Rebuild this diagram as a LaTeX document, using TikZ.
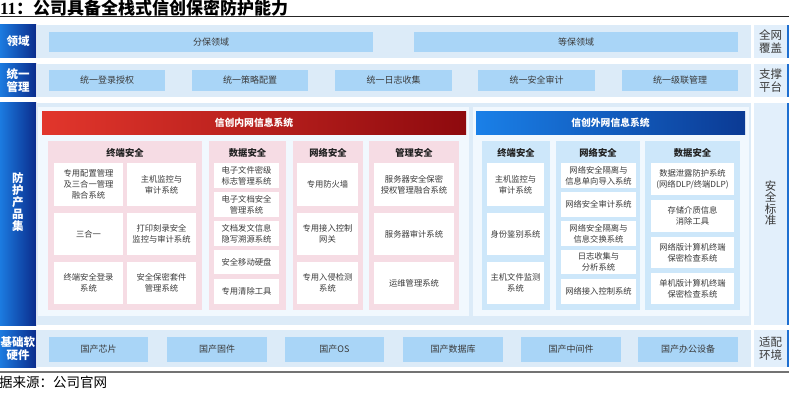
\documentclass[tikz,border=0pt]{standalone}
\usepackage{fontspec}
\newfontfamily\cjk{Noto Sans CJK SC}
\newfontfamily\serifl{Liberation Serif}
\definecolor{bgblue}{HTML}{DCEBF8}
\definecolor{panelc}{HTML}{F1F8FE}
\definecolor{rowboxc}{HTML}{A9D5F7}
\definecolor{pinkc}{HTML}{F6DCE4}
\definecolor{bluecolc}{HTML}{CDE7FA}
\definecolor{rlabc}{HTML}{E2EFFB}
\definecolor{labL}{HTML}{1C7BE0}
\definecolor{labR}{HTML}{0A2C8C}
\definecolor{redL}{HTML}{E2362C}
\definecolor{redR}{HTML}{8E0A0E}
\definecolor{blueL}{HTML}{1A80E8}
\definecolor{blueR}{HTML}{0B3A94}
\definecolor{stripc}{HTML}{1E6FD0}
\definecolor{txt}{HTML}{3A3A3A}
\definecolor{txtd}{HTML}{222222}
\newcommand\bx[7]{%
  \pgfmathsetmacro\bxw{#4-#2}\pgfmathsetmacro\bxh{#5-#3}%
  \node[#6, minimum width=\bxw pt, minimum height=\bxh pt] (#1) at ({(#2+#4)/2},{(#3+#5)/2}) {#7};}
\begin{document}
\begin{tikzpicture}[x=1pt,y=-1pt,
  every node/.style={font=\cjk, inner sep=0pt, outer sep=0pt, align=center, text=txt},
  lab/.style={left color=labL, right color=labR, text=white, font=\cjk\bfseries\fontsize{11.5}{12.5}\selectfont},
  labtxt/.style={text=white, font=\cjk\bfseries\fontsize{11.5}{12}\selectfont},
  rlab/.style={fill=rlabc, text=txt, font=\cjk\fontsize{11.5}{13}\selectfont},
  rlabtxt/.style={text=txt, font=\cjk\fontsize{11.5}{11.5}\selectfont},
  strip/.style={fill=stripc},
  bgrow/.style={fill=bgblue},
  rowbox/.style={fill=rowboxc, font=\cjk\fontsize{9}{11}\selectfont},
  panel/.style={fill=panelc},
  pinkcol/.style={fill=pinkc},
  bluecol/.style={fill=bluecolc},
  item/.style={fill=white, font=\cjk\fontsize{8.3}{11.2}\selectfont},
  colhead/.style={text=txtd, font=\cjk\bfseries\fontsize{9.3}{11}\selectfont},
  barred/.style={left color=redL, right color=redR, text=white, font=\cjk\bfseries\fontsize{9.8}{11}\selectfont},
  barblue/.style={left color=blueL, right color=blueR, text=white, font=\cjk\bfseries\fontsize{9.8}{11}\selectfont}
]
\useasboundingbox (0,0) rectangle (789,401);
\fill[white] (0,0) rectangle (789,401);

% title and rules
\node[anchor=west, text=black] (title) at (0,8) {{\serifl\bfseries\fontsize{17}{19}\selectfont 11}{\cjk\bfseries\fontsize{17}{19}\selectfont ：公司具备全栈式信创保密防护能力}};
\draw[line width=1pt, black!85] (0,17) -- (789,17);
\draw[line width=1.3pt, black!55] (0,372) -- (789,372);
\node[anchor=west, text=black, font=\cjk\fontsize{13.5}{15}\selectfont] (src) at (-1,382) {据来源：公司官网};

% row backgrounds
\bx{bg1}{37}{25}{751}{58}{bgrow}{}
\bx{bg2}{37}{64}{751}{97}{bgrow}{}
\bx{bg3}{37}{103}{751}{325}{bgrow}{}
\bx{bg4}{37}{330}{751}{367}{bgrow}{}

% left labels
\bx{L1}{0}{25}{36}{58}{lab}{领域}
\bx{L2}{0}{64}{36}{97}{lab}{统一\\管理}
\bx{L3}{0}{103}{36}{325}{lab}{}
\node[labtxt] (L3t) at (18,202) {防\\护\\产\\品\\集};
\bx{L4}{0}{330}{36}{367}{lab}{基础软\\硬件}

% right labels
\bx{R1}{754}{25}{787}{58}{rlab}{全网\\覆盖}
\bx{R2}{754}{64}{787}{97}{rlab}{支撑\\平台}
\bx{R3}{754}{103}{787}{325}{rlab}{}
\node[rlabtxt] (R3t) at (770.5,203) {安\\全\\标\\准};
\bx{R4}{754}{330}{787}{367}{rlab}{适配\\环境}
\bx{S1}{787}{25}{789}{58}{strip}{}
\bx{S2}{787}{64}{789}{97}{strip}{}
\bx{S3}{787}{103}{789}{325}{strip}{}
\bx{S4}{787}{330}{789}{367}{strip}{}

% row 1
\bx{d1}{49}{32}{373}{52}{rowbox}{分保领域}
\bx{d2}{414}{32}{738}{52}{rowbox}{等保领域}
% row 2
\bx{m1}{49}{70}{165}{91}{rowbox}{统一登录授权}
\bx{m2}{192}{70}{308}{91}{rowbox}{统一策略配置}
\bx{m3}{335}{70}{452}{91}{rowbox}{统一日志收集}
\bx{m4}{478}{70}{595}{91}{rowbox}{统一安全审计}
\bx{m5}{622}{70}{738}{91}{rowbox}{统一级联管理}
% row 4
\bx{h1}{49}{337}{148}{362}{rowbox}{国产芯片}
\bx{h2}{167}{337}{267}{362}{rowbox}{国产固件}
\bx{h3}{285}{337}{384}{362}{rowbox}{国产OS}
\bx{h4}{403}{337}{503}{362}{rowbox}{国产数据库}
\bx{h5}{521}{337}{621}{362}{rowbox}{国产中间件}
\bx{h6}{638}{337}{738}{362}{rowbox}{国产办公设备}

% row 3 panels
\bx{P1}{38}{107}{469}{316}{panel}{}
\bx{P2}{473}{107}{749}{316}{panel}{}
\bx{B1}{42}{112}{466}{134}{barred}{信创内网信息系统}
\bx{B2}{476}{112}{745}{134}{barblue}{信创外网信息系统}

% inner: terminal security
\bx{C1}{48}{141}{202}{310}{pinkcol}{}
\node[colhead] (C1h) at (125,152.5) {终端安全};
\bx{a1}{54}{163}{123}{206}{item}{专用配置管理\\及三合一管理\\融合系统}
\bx{a2}{127}{163}{196}{206}{item}{主机监控与\\审计系统}
\bx{a3}{54}{213}{123}{255}{item}{三合一}
\bx{a4}{127}{213}{196}{255}{item}{打印刻录安全\\监控与审计系统}
\bx{a5}{54}{262}{123}{304}{item}{终端安全登录\\系统}
\bx{a6}{127}{262}{196}{304}{item}{安全保密套件\\管理系统}

% inner: data security
\bx{C2}{209}{141}{286}{310}{pinkcol}{}
\node[colhead] (C2h) at (247.5,152.5) {数据安全};
\bx{b1}{214}{163}{279}{188}{item}{电子文件密级\\标志管理系统}
\bx{b2}{214}{192}{279}{217}{item}{电子文档安全\\管理系统}
\bx{b3}{214}{221}{279}{246}{item}{文档发文信息\\隐写溯源系统}
\bx{b4}{214}{250}{279}{274}{item}{安全移动硬盘}
\bx{b5}{214}{279}{279}{304}{item}{专用清除工具}

% inner: network security
\bx{C3}{293}{141}{363}{310}{pinkcol}{}
\node[colhead] (C3h) at (328,152.5) {网络安全};
\bx{c1}{297}{163}{358}{206}{item}{专用防火墙}
\bx{c2}{297}{213}{358}{255}{item}{专用接入控制\\网关}
\bx{c3}{297}{262}{358}{304}{item}{专用入侵检测\\系统}

% inner: management security
\bx{C4}{369}{141}{459}{310}{pinkcol}{}
\node[colhead] (C4h) at (414,152.5) {管理安全};
\bx{e1}{374}{163}{454}{206}{item}{服务器安全保密\\授权管理融合系统}
\bx{e2}{374}{213}{454}{255}{item}{服务器审计系统}
\bx{e3}{374}{262}{454}{304}{item}{运维管理系统}

% outer: terminal security
\bx{D1}{482}{141}{550}{310}{bluecol}{}
\node[colhead] (D1h) at (516,152.5) {终端安全};
\bx{f1}{487}{163}{544}{206}{item}{主机监控与\\审计系统}
\bx{f2}{487}{213}{544}{255}{item}{身份鉴别系统}
\bx{f3}{487}{262}{544}{304}{item}{主机文件监测\\系统}

% outer: network security
\bx{D2}{556}{141}{640}{310}{bluecol}{}
\node[colhead] (D2h) at (598,152.5) {网络安全};
\bx{g1}{561}{163}{636}{188}{item}{网络安全隔离与\\信息单向导入系统}
\bx{g2}{561}{192}{636}{217}{item}{网络安全审计系统}
\bx{g3}{561}{221}{636}{246}{item}{网络安全隔离与\\信息交换系统}
\bx{g4}{561}{250}{636}{274}{item}{日志收集与\\分析系统}
\bx{g5}{561}{279}{636}{304}{item}{网络接入控制系统}

% outer: data security
\bx{D3}{645}{141}{740}{310}{bluecol}{}
\node[colhead] (D3h) at (692.5,152.5) {数据安全};
\bx{k1}{651}{163}{734}{195}{item}{数据泄露防护系统\\(网络DLP/终端DLP)}
\bx{k2}{651}{200}{734}{232}{item}{存储介质信息\\消除工具}
\bx{k3}{651}{237}{734}{268}{item}{网络版计算机终端\\保密检查系统}
\bx{k4}{651}{273}{734}{304}{item}{单机版计算机终端\\保密检查系统}
\end{tikzpicture}
\end{document}
